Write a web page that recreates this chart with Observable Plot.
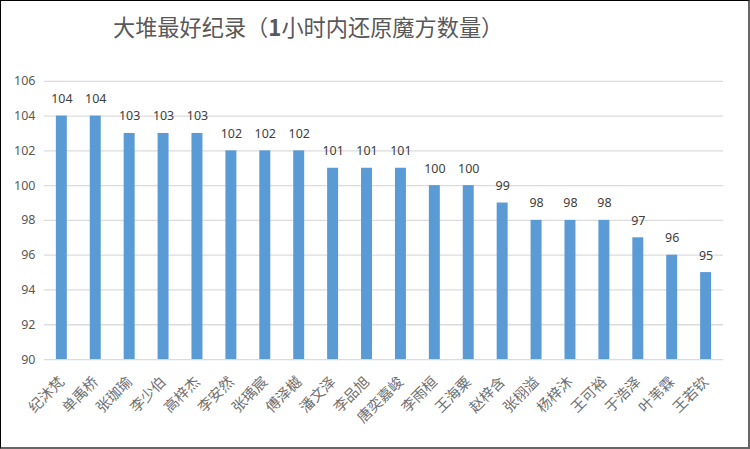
<!DOCTYPE html>
<html>
<head>
<meta charset="utf-8">
<script src="https://cdn.jsdelivr.net/npm/d3@7"></script>
<script src="https://cdn.jsdelivr.net/npm/@observablehq/plot@0.6"></script>
<style>
  html, body { margin: 0; padding: 0; background: #fff; }
  #frame {
    position: relative; width: 750px; height: 449px; box-sizing: border-box;
    border-left: 1px solid #000; border-top: 1px solid #000;
    border-right: 2px solid #666; border-bottom: 2px solid #666;
    overflow: hidden; background: #fff;
  }
  #title {
    position: absolute; left: 112px; top: 9px;
    font-family: "Noto Sans CJK SC", sans-serif; font-size: 22.2px; color: #595959;
    white-space: nowrap; letter-spacing: 0px;
  }
  #chart { position: absolute; left: -1px; top: -1px; }
</style>
</head>
<body>
<div id="frame">
  <div id="title">大堆最好纪录（<b>1</b>小时内还原魔方数量）</div>
  <div id="chart"></div>
</div>
<script>
const names = ["纪沐梵","单禹桥","张珈瑜","李少伯","高梓杰","李安然","张瑀宸","傅泽樾","潘文泽","李品旭","唐奕嘉峻","李雨桓","王海粟","赵梓含","张栩溢","杨梓沐","王可裕","于浩泽","叶苇霖","王若钦"];
const values = [104,104,103,103,103,102,102,102,101,101,101,100,100,99,98,98,98,97,96,95];
const yTicks = [90,92,94,96,98,100,102,104,106];

const data = names.map((n, i) => ({name: n, value: values[i]}));

const chart = Plot.plot({
  width: 750,
  height: 449,
  marginLeft: 44,
  marginRight: 25,
  marginTop: 81,
  marginBottom: 89,
  style: {background: "transparent", overflow: "visible"},
  x: {domain: names, paddingInner: 0.68, paddingOuter: 0.34},
  y: {domain: [90, 106]},
  marks: [
    Plot.ruleY(yTicks, {stroke: "#dcdcdc", strokeWidth: 1.3}),
    Plot.barY(data, {x: "name", y1: 90, y2: "value", fill: "#5b9bd5"}),
    Plot.text(data, {x: "name", y: "value", text: d => String(d.value), dy: -17,
      fill: "#404040", fontSize: 12.5, fontFamily: "Noto Sans, sans-serif"}),
    Plot.axisY({ticks: yTicks, tickSize: 0, tickPadding: 9, label: null,
      fontSize: 12.5, fontFamily: "Noto Sans, sans-serif", fill: "#595959"}),
    Plot.axisX({tickSize: 0, tickPadding: 20, tickRotate: -45, label: null,
      fontSize: 14.5, fontFamily: "Noto Sans CJK SC, sans-serif", fill: "#707070"})
  ]
});
document.getElementById("chart").appendChild(chart);
</script>
</body>
</html>
